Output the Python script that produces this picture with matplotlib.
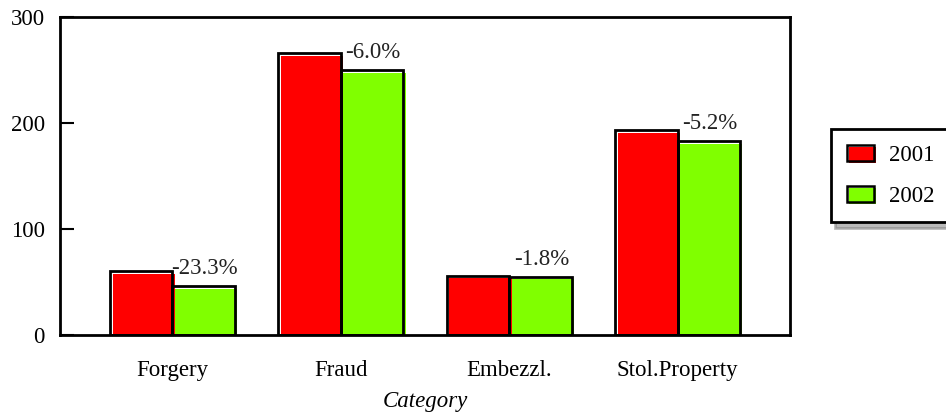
import matplotlib.pyplot as plt
import matplotlib.transforms as mtrans
from matplotlib.legend_handler import HandlerPatch, HandlerTuple
import numpy as np

plt.rcParams['font.family'] = ['Liberation Serif', 'DejaVu Serif']

categories = ['Forgery', 'Fraud', 'Embezzl.', 'Stol.Property']
vals_2001 = [60, 266, 56, 193]
vals_2002 = [46, 250, 55, 183]
change_labels = ['-23.3%', '-6.0%', '-1.8%', '-5.2%']

FS = 16.5
fig = plt.figure(figsize=(9.46, 4.16), dpi=100)
ax = fig.add_axes([60/946, 1 - 335/416, 730/946, 318/416])

x = np.arange(len(categories))
w = 0.37

# fills sit a little right/down of the black outline (shadow look)
fill_tr = mtrans.offset_copy(ax.transData, fig=fig, x=2.5, y=-2.5, units='dots')
ax.bar(x - w/2, vals_2001, w, color='#ff0000', transform=fill_tr, zorder=2)
ax.bar(x + w/2, vals_2002, w, color='#80ff00', transform=fill_tr, zorder=2)
ax.bar(x - w/2, vals_2001, w, fill=False, edgecolor='black', linewidth=2, zorder=3)
ax.bar(x + w/2, vals_2002, w, fill=False, edgecolor='black', linewidth=2, zorder=3)

for i, lab in enumerate(change_labels):
    ax.annotate(lab, (x[i] + w/2, vals_2002[i]), xytext=(1, 12), textcoords='offset pixels',
                ha='center', va='baseline', fontsize=FS, color='#222222', zorder=5)

ax.set_xlim(-0.667, 3.667)
ax.set_ylim(0, 300)
ax.set_yticks([0, 100, 200, 300])
ax.set_xticks(x)
ax.set_xticklabels(categories)
ax.tick_params(axis='y', direction='in', length=10, width=1.5, labelsize=FS, pad=11)
ax.tick_params(axis='x', length=0, labelsize=FS, pad=18)
for s in ax.spines.values():
    s.set_linewidth(2)
ax.set_xlabel('Category', fontsize=FS, style='italic', labelpad=7)


# legend swatches: outline plus offset fill, like the bars
def fill_patch(legend, orig_handle, xdescent, ydescent, width, height, fontsize):
    return plt.Rectangle((-xdescent + 1.5, -ydescent - 1.5), width, height)


def edge_patch(legend, orig_handle, xdescent, ydescent, width, height, fontsize):
    return plt.Rectangle((-xdescent, -ydescent), width, height)


handles = []
hmap = {tuple: HandlerTuple(ndivide=1, pad=0)}
for col in ['#ff0000', '#80ff00']:
    f = plt.Rectangle((0, 0), 1, 1, facecolor=col, edgecolor='none')
    e = plt.Rectangle((0, 0), 1, 1, facecolor='none', edgecolor='black', linewidth=1.8)
    hmap[f] = HandlerPatch(patch_func=fill_patch)
    hmap[e] = HandlerPatch(patch_func=edge_patch)
    handles.append((f, e))

# box runs off the right edge of the figure, as in the original
leg = fig.legend(handles, ['2001', '2002'], handler_map=hmap, loc='upper left',
                 bbox_to_anchor=(831/946, 1 - 129/416), fontsize=FS, frameon=True, fancybox=False,
                 shadow={'color': '#777777', 'ox': 3, 'oy': -4},
                 borderpad=0.68, labelspacing=0.88, handlelength=1.2, handleheight=0.7,
                 handletextpad=0.65, borderaxespad=0)
leg.get_frame().set_edgecolor('black')
leg.get_frame().set_linewidth(2)

fig.savefig('out.png', dpi=100)
